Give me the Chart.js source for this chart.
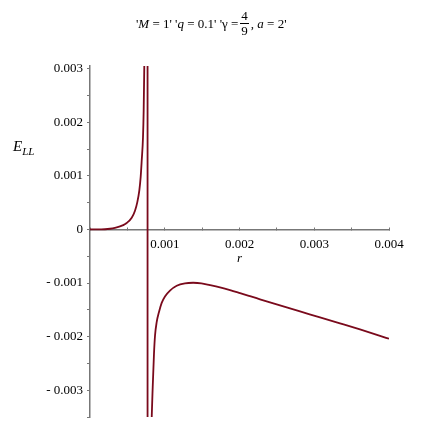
<!DOCTYPE html>
<html>
<head>
<meta charset="utf-8">
<script src="https://cdn.jsdelivr.net/npm/chart.js@4/dist/chart.umd.min.js"></script>
<style>
  html, body { margin:0; padding:0; background:#fff; }
  #wrap { position:relative; width:433px; height:439px; }
  #chart { position:absolute; left:0; top:0; }
  .lbl { position:absolute; font-family:'Liberation Serif', serif; font-size:13px; color:#000; white-space:nowrap; }
  .frac { display:inline-flex; flex-direction:column; align-items:center; margin:0 2px; line-height:14px; }
  .frac span:first-child { border-bottom:1px solid #000; padding:0 1px; }
</style>
</head>
<body>
<div id="wrap">
  <canvas id="chart" width="433" height="439"></canvas>
  <div class="lbl" id="title" style="left:136px;top:9px;display:flex;align-items:center;">
    <span>'<i>M</i> = 1' '<i>q</i> = 0.1' 'γ = </span>
    <span class="frac"><span>4</span><span>9</span></span>
    <span>, <i>a</i> = 2'</span>
  </div>
  <div class="lbl" style="left:13px;top:138px;font-size:15px;"><i>E</i><sub style="font-size:11px;vertical-align:-4px;"><i>LL</i></sub></div>
  <div class="lbl" style="left:237px;top:250px;"><i>r</i></div>
</div>
<script>
// left branch (before the pole)
const rLeft = [0, 0.0001, 0.0002, 0.000268, 0.000334, 0.000401, 0.000445, 0.000491, 0.000558, 0.000602, 0.000633, 0.00066, 0.000678, 0.000692, 0.000709, 0.000718, 0.000726, 0.00074];
const eLeft = [0, 0, 0.000004, 0.000013, 0.00003, 0.000056, 0.00008, 0.00012, 0.00022, 0.00035, 0.00051, 0.00073, 0.00098, 0.00129, 0.00172, 0.00222, 0.00302, 0.0045];

// right branch (after the pole)
const rRight = [0.00081, 0.000825, 0.000839, 0.000856, 0.00087, 0.000892, 0.000923, 0.000959, 0.001003, 0.00107, 0.00116, 0.00127, 0.00138, 0.00149, 0.001605, 0.001739, 0.001873, 0.002007, 0.00214, 0.002274, 0.002408, 0.002542, 0.002676, 0.00281, 0.003077, 0.003344, 0.003612, 0.00388, 0.004];
const eRight = [-0.0045, -0.00353, -0.00294, -0.00232, -0.00198, -0.00173, -0.00154, -0.00137, -0.00125, -0.00114, -0.00105, -0.001005, -0.000995, -0.001005, -0.001039, -0.001082, -0.001132, -0.001188, -0.001245, -0.001303, -0.001361, -0.001418, -0.001474, -0.00153, -0.00164, -0.001752, -0.001866, -0.001985, -0.00204];

// jump line at the pole
const rPole = [0.00077, 0.00077];
const ePole = [0.0045, -0.0045];

const xTickVals = [0, 0.0005, 0.001, 0.0015, 0.002, 0.0025, 0.003, 0.0035, 0.004];
const xTickLabels = ['', '', '0.001', '', '0.002', '', '0.003', '', '0.004'];
const yTickVals = [-0.0035, -0.003, -0.0025, -0.002, -0.0015, -0.001, -0.0005, 0, 0.0005, 0.001, 0.0015, 0.002, 0.0025, 0.003];
const yTickLabels = ['', '- 0.003', '', '- 0.002', '', '- 0.001', '', '0', '', '0.001', '', '0.002', '', '0.003'];

const curveColor = '#7a0a1c';
const axisColor = '#777';
const tickFont = { family: 'Liberation Serif', size: 13 };

function pts(xs, ys){ return xs.map((x,i)=>({x:x, y:ys[i]})); }
function line(data, smooth){
  return { data: data, showLine: true, pointRadius: 0, borderColor: curveColor, borderWidth: 1.8,
           cubicInterpolationMode: smooth ? 'monotone' : 'default', tension: 0 };
}

new Chart(document.getElementById('chart').getContext('2d'), {
  type: 'scatter',
  data: {
    datasets: [
      line(pts(rLeft, eLeft), true),
      line(pts(rPole, ePole), false),
      line(pts(rRight, eRight), true)
    ]
  },
  options: {
    responsive: false,
    animation: false,
    layout: { padding: { left: 0, right: 44, top: 66, bottom: 22 } },
    plugins: { legend: { display: false }, tooltip: { enabled: false }, title: { display: false } },
    scales: {
      x: {
        type: 'linear', min: 0, max: 0.004,
        position: { y: 0 },
        afterBuildTicks: s => { s.ticks = xTickVals.map(v=>({value:v})); },
        border: { color: axisColor, width: 1.5 },
        grid: { drawOnChartArea: false, drawTicks: true, tickLength: -3, color: axisColor },
        ticks: { font: tickFont, color: '#000', autoSkip: false, maxRotation: 0, padding: 10,
                 callback: (v, i) => xTickLabels[i] }
      },
      y: {
        type: 'linear', min: -0.0035, max: 0.00305,
        position: 'left',
        afterFit: s => { s.width = 90; },
        afterBuildTicks: s => { s.ticks = yTickVals.map(v=>({value:v})); },
        border: { color: axisColor, width: 1.5 },
        grid: { drawOnChartArea: false, drawTicks: true, tickLength: 3, color: axisColor },
        ticks: { font: tickFont, color: '#000', autoSkip: false, padding: 4,
                 callback: (v, i) => yTickLabels[i] }
      }
    }
  }
});
</script>
</body>
</html>
